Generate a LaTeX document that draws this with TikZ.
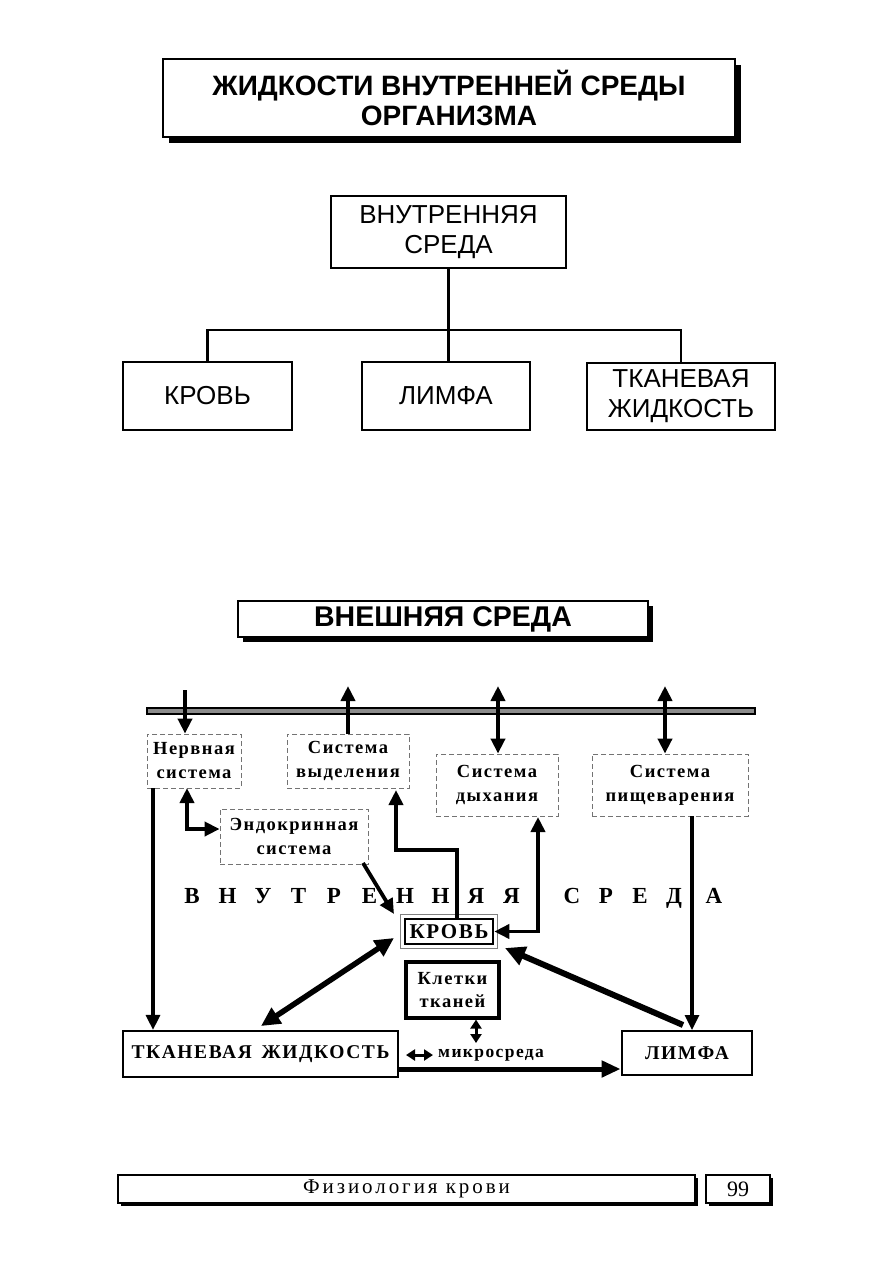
\documentclass[tikz,border=0pt]{standalone}
\usepackage{fontspec}
\setmainfont{Liberation Serif}
\newfontfamily\hv{Liberation Sans}
\newfontfamily\serifsp[LetterSpace=8]{Liberation Serif}
\newfontfamily\serifwide[LetterSpace=14]{Liberation Serif}
\usetikzlibrary{arrows.meta,shadows,calc}
\begin{document}
\begin{tikzpicture}[x=1pt,y=-1pt,
  box/.style={draw, fill=white, inner sep=0pt, align=center, line width=2pt},
  dbox/.style={draw=black!55, dash pattern=on 5pt off 3pt, line width=0.8pt, inner sep=0pt, align=center, fill=white,
     font=\serifsp\bfseries\fontsize{18.5}{24}\selectfont},
  sbox/.style={box, drop shadow={shadow xshift=#1, shadow yshift=-#1, fill=black, opacity=1}},
  sbox/.default=6pt,
  ar/.style={line width=3.8pt, -{Triangle[length=15pt,width=14pt]}},
  dar/.style={line width=3.8pt, {Triangle[length=15pt,width=14pt]}-{Triangle[length=15pt,width=14pt]}},
  conn/.style={line width=2.2pt},
  letter/.style={font=\bfseries\fontsize{23}{25}\selectfont, inner sep=0pt, anchor=base}
]
\useasboundingbox (0,0) rectangle (893,1263);

% ---------- Top part ----------
\node[sbox, minimum width=572pt, minimum height=77pt, line width=2pt,
      font=\hv\bfseries\fontsize{28}{30.5}\selectfont] (title) at (449,98)
      {ЖИДКОСТИ ВНУТРЕННЕЙ СРЕДЫ\\ОРГАНИЗМА};

\node[box, minimum width=235pt, minimum height=72pt, font=\hv\fontsize{26}{30}\selectfont] (vs) at (448.5,232)
      {ВНУТРЕННЯЯ\\СРЕДА};
\node[box, minimum width=169pt, minimum height=68pt, font=\hv\fontsize{26}{30}\selectfont] (k1) at (207.5,396) {КРОВЬ};
\node[box, minimum width=168pt, minimum height=68pt, font=\hv\fontsize{26}{30}\selectfont] (l1) at (446,396) {ЛИМФА};
\node[box, minimum width=188pt, minimum height=67pt, font=\hv\fontsize{26}{30}\selectfont] (t1) at (681,396.5) {ТКАНЕВАЯ\\ЖИДКОСТЬ};

\coordinate (j) at (448,330);
\draw[conn] (vs.south) -- (vs.south |- l1.north);
\draw[conn] (k1.north) -- (k1.north |- j) -- (t1.north |- j) -- (t1.north);

% ---------- Bottom part ----------
\node[sbox=5pt, minimum width=410pt, minimum height=36pt, line width=1.8pt,
      font=\hv\bfseries\fontsize{28.5}{30}\selectfont] (ext) at (443,619) {ВНЕШНЯЯ СРЕДА};

\node[draw=black, line width=1.2pt, fill=black!45, minimum width=608pt, minimum height=6pt, inner sep=0pt] (bar) at (451,711) {};

\node[dbox, minimum width=94pt, minimum height=54pt] (nerv) at (194,761) {Нервная\\система};
\node[dbox, minimum width=122pt, minimum height=54pt] (vyd) at (348,761) {Система\\выделения};
\node[dbox, minimum width=148pt, minimum height=55pt] (endo) at (294,836.5) {Эндокринная\\система};
\node[dbox, minimum width=122pt, minimum height=62pt] (dyh) at (497,785) {Система\\дыхания};
\node[dbox, minimum width=156pt, minimum height=62pt] (pis) at (670,785) {Система\\пищеварения};

% spaced letters
\foreach \ch/\x [count=\i] in {В/192,Н/227.5,У/263,Т/298.5,Р/334,Е/369.5,Н/405,Н/440.5,Я/476,Я/511.5,С/572,Р/606,Е/640,Д/674,А/714}
  \node[letter] (lt\i) at (\x,903) {\ch};

\node[draw, line width=2.6pt, fill=white, inner sep=0pt, minimum width=88pt, minimum height=25pt,
      font=\serifsp\bfseries\fontsize{21}{22}\selectfont] (krov) at (449,931.5) {КРОВЬ};
\draw[black!50, line width=0.9pt] ([shift={(-3.5,3.5)}]krov.south west) rectangle ([shift={(3.5,-3.5)}]krov.north east);

\node[draw, line width=3.2pt, inner sep=0pt, minimum width=93pt, minimum height=56pt, align=center,
      font=\serifsp\bfseries\fontsize{18.5}{23}\selectfont] (klet) at (452.5,990) {Клетки\\тканей};

\node[draw, line width=2.2pt, inner sep=0pt, minimum width=275pt, minimum height=46pt,
      font=\serifsp\bfseries\fontsize{19.5}{22}\selectfont] (tz) at (260.5,1054) {ТКАНЕВАЯ\enspace ЖИДКОСТЬ};
\node[draw, line width=2.8pt, inner sep=0pt, minimum width=130pt, minimum height=44pt,
      font=\serifsp\bfseries\fontsize{19.5}{22}\selectfont] (lim) at (687,1053) {ЛИМФА};

\node[anchor=west, inner sep=0pt, font=\serifsp\bfseries\fontsize{17.5}{18}\selectfont] (mikro) at (438,1055) {микросреда};

% top arrows
\coordinate (inN) at (185,690);
\draw[ar] (inN) -- (inN |- nerv.north);
\coordinate (outV) at (348,686);
\draw[ar] (vyd.north) -- (outV);
\coordinate (outD) at (498,686);
\draw[dar] (outD) -- (outD |- dyh.north);
\coordinate (outP) at (665,686);
\draw[dar] (outP) -- (outP |- pis.north);

% inner arrows
\coordinate (nb) at (153,788);
\draw[ar, line width=3.2pt] (nb) -- (nb |- tz.north);
\coordinate (ne1) at (187,788);
\coordinate (ne2) at (187,829);
\draw[dar] (ne1) -- (ne2) -- (ne2 -| endo.west);

\coordinate (ek1) at (363,863);
\coordinate (ek2) at (394,914);
\draw[ar] (ek1) -- (ek2);

\coordinate (kv1) at (457,850);
\coordinate (kv2) at (396,850);
\coordinate (kv3) at (396,790);
\draw[ar] (kv1 |- krov.north) -- (kv1) -- (kv2) -- (kv3);

\coordinate (kd1) at (538,931.5);
\coordinate (kd2) at (538,817);
\draw[dar] (krov.east) -- (kd1) -- (kd2);

\coordinate (pl1) at (692,816);
\coordinate (pl2) at (692,1030);
\draw[ar, line width=3.2pt] (pl1) -- (pl2);

\coordinate (lk1) at (683,1025);
\coordinate (lk2) at (505,948);
\draw[line width=6pt, -{Triangle[length=20pt,width=19pt]}] (lk1) -- (lk2);

\coordinate (kt1) at (394,938);
\coordinate (kt2) at (261,1026);
\draw[line width=5.5pt, {Triangle[length=19pt,width=18pt]}-{Triangle[length=19pt,width=18pt]}] (kt1) -- (kt2);

\coordinate (km) at (476,1043);
\draw[line width=3pt, {Triangle[length=9pt,width=11pt]}-{Triangle[length=9pt,width=11pt]}] (klet.south -| km) -- (km);

\coordinate (hm1) at (406,1055);
\coordinate (hm2) at (433,1055);
\draw[line width=3pt, {Triangle[length=9pt,width=11pt]}-{Triangle[length=9pt,width=11pt]}] (hm1) -- (hm2);

\coordinate (tl1) at (398,1069);
\draw[line width=5pt, -{Triangle[length=19pt,width=16pt]}] (tz.east |- tl1) -- (tl1 -| lim.west);

% ---------- Footer ----------
\node[sbox=2.5pt, line width=1.5pt, minimum width=577pt, minimum height=28pt,
      font=\serifwide\fontsize{21}{22}\selectfont] (foot) at (406.5,1189) {Физиология крови};
\node[sbox=2.5pt, line width=1.5pt, minimum width=64pt, minimum height=28pt,
      font=\fontsize{22}{22}\selectfont] (page) at (738,1189) {99};
\end{tikzpicture}
\end{document}
